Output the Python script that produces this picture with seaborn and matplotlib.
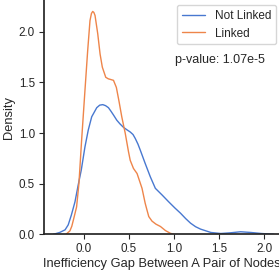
import pandas as pd
import matplotlib.pyplot as plt
import seaborn as sns

# density curves
not_linked_x = [-0.34, -0.27, -0.21, -0.175, -0.14, -0.10, -0.064, -0.03, 0.011, 0.048,
                0.086, 0.142, 0.175, 0.209, 0.24, 0.272, 0.30, 0.33, 0.365, 0.40, 0.44,
                0.48, 0.514, 0.545, 0.57, 0.60, 0.626, 0.68, 0.737, 0.793, 0.868, 0.942,
                1.01, 1.073, 1.13, 1.184, 1.24, 1.296, 1.41, 1.52, 1.63, 1.74, 1.855,
                1.97, 2.11]
not_linked_y = [0.0, 0.018, 0.044, 0.093, 0.19, 0.32, 0.487, 0.634, 0.863, 1.03,
                1.16, 1.25, 1.275, 1.28, 1.27, 1.25, 1.215, 1.175, 1.126, 1.09, 1.055,
                1.03, 1.01, 0.985, 0.946, 0.89, 0.83, 0.70, 0.568, 0.454, 0.388, 0.32,
                0.26, 0.208, 0.155, 0.11, 0.075, 0.051, 0.018, 0.008, 0.015, 0.025, 0.018,
                0.008, 0.0]

linked_x = [-0.20, -0.156, -0.135, -0.115, -0.082, -0.056, -0.026, 0.011, 0.041, 0.067,
            0.083, 0.097, 0.11, 0.123, 0.153, 0.179, 0.204, 0.242, 0.27, 0.29, 0.328,
            0.36, 0.39, 0.42, 0.458, 0.495, 0.514, 0.55, 0.59, 0.645, 0.68, 0.70, 0.72,
            0.756, 0.80, 0.85, 0.905, 0.96, 1.0]
linked_y = [0.0, 0.034, 0.08, 0.15, 0.27, 0.50, 0.93, 1.42, 1.81, 2.11,
            2.18, 2.20, 2.19, 2.16, 1.98, 1.78, 1.65, 1.55, 1.535, 1.53, 1.52,
            1.45, 1.31, 1.16, 1.0, 0.814, 0.73, 0.65, 0.60, 0.454, 0.307, 0.24, 0.175,
            0.13, 0.10, 0.077, 0.037, 0.01, 0.0]

group_names = ["Not Linked", "Linked"]
p_value_text = "p-value: 1.07e-5"

df = pd.concat([
    pd.DataFrame({"gap": not_linked_x, "density": not_linked_y, "group": group_names[0]}),
    pd.DataFrame({"gap": linked_x, "density": linked_y, "group": group_names[1]}),
])

sns.set_theme(style="ticks", palette="muted")
plt.rcParams["font.family"] = ["Liberation Sans", "DejaVu Sans"]

fig = plt.figure(figsize=(2.79, 2.77), dpi=100)
# axes span nearly the whole picture, as in the reference
ax = fig.add_axes([44 / 279, 42.7 / 277, 236 / 279, 234.3 / 277])

sns.lineplot(data=df, x="gap", y="density", hue="group", hue_order=group_names,
             linewidth=1.0, ax=ax, estimator=None)

ax.set_xlim(-0.444, 2.178)
ax.set_ylim(0, 2.313)
ax.set_xticks([0.0, 0.5, 1.0, 1.5, 2.0])
ax.set_yticks([0.0, 0.5, 1.0, 1.5, 2.0])
ax.tick_params(labelsize=8.4, length=3.5, width=0.8, pad=3)
ax.set_xlabel("Inefficiency Gap Between A Pair of Nodes", fontsize=9.3, labelpad=2)
ax.set_ylabel("Density", fontsize=9.3, labelpad=3)
sns.despine(ax=ax)

handles, labels = ax.get_legend_handles_labels()
ax.legend(handles, labels, loc="upper right", bbox_to_anchor=(276 / 279, 1 - 5 / 277),
          bbox_transform=fig.transFigure, borderaxespad=0, fontsize=8.5, title=None)

fig.text(175 / 279, 1 - 60 / 277, p_value_text, fontsize=9, va="center", ha="left")

fig.savefig("out.png", dpi=100)
